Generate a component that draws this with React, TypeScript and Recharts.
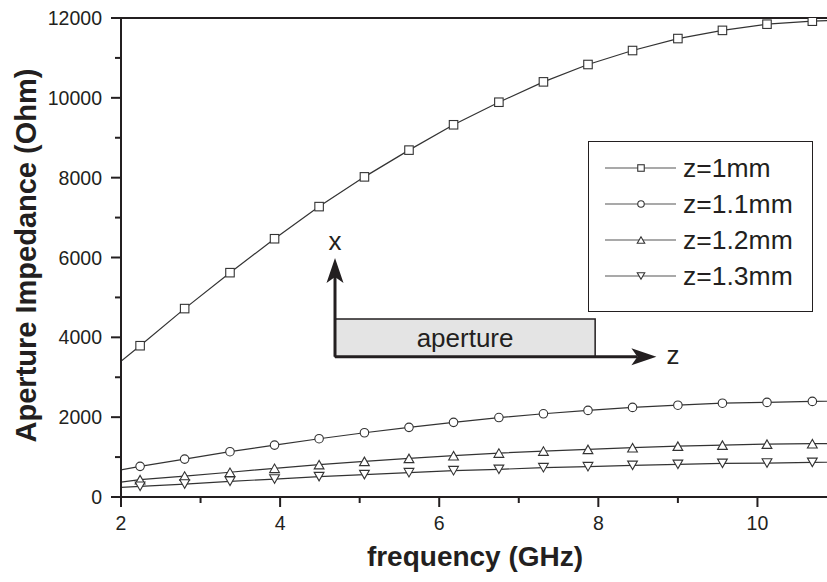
import React from "react";
import {
  LineChart,
  Line,
  XAxis,
  YAxis,
  Legend,
  ReferenceLine,
  ReferenceArea,
} from "recharts";

const INK = "#231f20";
const LINE = "#333333";
const FONT = "'Liberation Sans', Arial, Helvetica, sans-serif";

// frequency (GHz); first and last points sit just outside the visible range
const freq = [1.68, 2.24, 2.8, 3.37, 3.93, 4.49, 5.06, 5.62, 6.18, 6.75, 7.31, 7.87, 8.43, 9.0, 9.56, 10.12, 10.69, 11.25];

// aperture impedance (Ohm)
const z10 = [2880, 3790, 4720, 5620, 6470, 7275, 8020, 8690, 9325, 9890, 10400, 10835, 11185, 11485, 11690, 11845, 11920, 11960];
const z11 = [560, 768, 950, 1135, 1300, 1460, 1610, 1745, 1870, 1990, 2085, 2170, 2245, 2300, 2350, 2370, 2395, 2405];
const z12 = [290, 435, 525, 620, 718, 810, 893, 968, 1035, 1100, 1150, 1193, 1235, 1275, 1300, 1325, 1335, 1340];
const z13 = [200, 268, 325, 393, 450, 510, 560, 610, 660, 693, 735, 760, 793, 818, 843, 850, 868, 875];

const xTicks = [2, 3, 4, 5, 6, 7, 8, 9, 10, 11];
const yTicks = [0, 1000, 2000, 3000, 4000, 5000, 6000, 7000, 8000, 9000, 10000, 11000, 12000];

const series = [
  { key: "z10", name: "z=1mm", marker: "square", values: z10 },
  { key: "z11", name: "z=1.1mm", marker: "circle", values: z11 },
  { key: "z12", name: "z=1.2mm", marker: "up", values: z12 },
  { key: "z13", name: "z=1.3mm", marker: "down", values: z13 },
];

const data = freq.map((f, i) => {
  const row: Record<string, number> = { f };
  series.forEach((s) => (row[s.key] = s.values[i]));
  return row;
});

function Marker({ kind, cx, cy, s }: { kind: string; cx: number; cy: number; s: number }) {
  const common = { fill: "#fff", stroke: LINE, strokeWidth: 1.1 };
  if (kind === "square") return <rect x={cx - s / 2} y={cy - s / 2} width={s} height={s} {...common} />;
  if (kind === "circle") return <circle cx={cx} cy={cy} r={s / 2} {...common} />;
  const w = s * 1.15;
  const h = s;
  if (kind === "up")
    return <polygon points={`${cx},${cy - h / 2} ${cx - w / 2},${cy + h / 2} ${cx + w / 2},${cy + h / 2}`} {...common} />;
  return <polygon points={`${cx},${cy + h / 2} ${cx - w / 2},${cy - h / 2} ${cx + w / 2},${cy - h / 2}`} {...common} />;
}

function YTick({ x, y, payload }: any) {
  const major = payload.value % 2000 === 0;
  return (
    <g>
      <line x1={x - (major ? 10 : 6)} x2={x} y1={y} y2={y} stroke={INK} strokeWidth={2} />
      {major && (
        <text x={x - 19} y={y} dy="0.36em" textAnchor="end" fontSize={19.5} fill={INK} fontFamily={FONT}>
          {payload.value}
        </text>
      )}
    </g>
  );
}

function XTick({ x, y, payload }: any) {
  const major = payload.value % 2 === 0;
  return (
    <g>
      <line x1={x} x2={x} y1={y} y2={y + (major ? 10 : 6)} stroke={INK} strokeWidth={2} />
      {major && (
        <text x={x} y={y + 33} textAnchor="middle" fontSize={19.5} fill={INK} fontFamily={FONT}>
          {payload.value}
        </text>
      )}
    </g>
  );
}

function arrowShape(label: string, where: "above" | "right") {
  return (p: any) => {
    const { x1, y1, x2, y2 } = p;
    const ang = Math.atan2(y2 - y1, x2 - x1);
    const ux = Math.cos(ang);
    const uy = Math.sin(ang);
    const nx = -uy;
    const ny = ux;
    const L = 25;
    const W = 8.5;
    const notch = 6;
    const bx = x2 - ux * L;
    const by = y2 - uy * L;
    const mx = x2 - ux * (L - notch);
    const my = y2 - uy * (L - notch);
    const pts = `${x2},${y2} ${bx + nx * W},${by + ny * W} ${mx},${my} ${bx - nx * W},${by - ny * W}`;
    return (
      <g>
        <line x1={x1} y1={y1} x2={mx} y2={my} stroke={INK} strokeWidth={3} />
        <polygon points={pts} fill={INK} />
        {where === "above" ? (
          <text x={x2} y={y2 - 8} textAnchor="middle" fontSize={26} fill={INK} fontFamily={FONT}>
            {label}
          </text>
        ) : (
          <text x={x2 + 10} y={y2 + 7} textAnchor="start" fontSize={26} fill={INK} fontFamily={FONT}>
            {label}
          </text>
        )}
      </g>
    );
  };
}

function LegendBox() {
  return (
    <div
      style={{
        width: 225,
        height: 171,
        boxSizing: "border-box",
        border: `1.5px solid ${INK}`,
        background: "#fff",
        paddingTop: 8,
        fontFamily: FONT,
      }}
    >
      {series.map((s) => (
        <div key={s.key} style={{ display: "flex", alignItems: "center", height: 36 }}>
          <svg width={94} height={20} style={{ flex: "none" }}>
            <line x1={16} x2={87} y1={10} y2={10} stroke="#555" strokeWidth={1.2} />
            <Marker kind={s.marker} cx={52} cy={10} s={6.5} />
          </svg>
          <span style={{ fontSize: 26.5, color: INK, lineHeight: 1 }}>{s.name}</span>
        </div>
      ))}
    </div>
  );
}

export default function App() {
  return (
    <div
      style={{
        position: "fixed",
        left: 0,
        top: 0,
        width: 827,
        height: 582,
        overflow: "hidden",
        background: "#fff",
      }}
    >
      <LineChart width={850} height={582} data={data} margin={{ top: 18, right: 13, bottom: 0, left: 0 }}>
        <XAxis
          dataKey="f"
          type="number"
          domain={[2, 11]}
          allowDataOverflow
          ticks={xTicks}
          interval={0}
          tickSize={0}
          tickMargin={0}
          tick={<XTick />}
          height={85}
          axisLine={{ stroke: INK, strokeWidth: 2 }}
          label={(props: any) => {
            const vb = props.viewBox ?? { x: 121, y: 497, width: 716, height: 85 };
            return (
              <text
                x={vb.x + vb.width / 2 - 4}
                y={vb.y + 69}
                textAnchor="middle"
                fontSize={28}
                fontWeight="bold"
                fill={INK}
                fontFamily={FONT}
              >
                frequency (GHz)
              </text>
            );
          }}
        />
        <YAxis
          type="number"
          domain={[0, 12000]}
          allowDataOverflow
          ticks={yTicks}
          interval={0}
          tickSize={0}
          tickMargin={0}
          tick={<YTick />}
          width={121}
          axisLine={{ stroke: INK, strokeWidth: 2 }}
          label={(props: any) => {
            const vb = props.viewBox ?? { x: 0, y: 18, width: 121, height: 479 };
            const cy = vb.y + vb.height / 2 - 2;
            return (
              <text
                x={36}
                y={cy}
                transform={`rotate(-90, 36, ${cy})`}
                textAnchor="middle"
                fontSize={29}
                fontWeight="bold"
                fill={INK}
                fontFamily={FONT}
              >
                Aperture Impedance (Ohm)
              </text>
            );
          }}
        />
        <Legend
          layout="horizontal"
          align="center"
          verticalAlign="middle"
          wrapperStyle={{ left: 588, top: 141, width: 225, height: 171 }}
          content={() => <LegendBox />}
        />
        <ReferenceArea
          x1={4.69}
          x2={7.96}
          y1={3515}
          y2={4460}
          fill="#e4e4e4"
          fillOpacity={1}
          stroke={INK}
          strokeWidth={1.5}
          label={{ value: "aperture", position: "center", fill: INK, fontSize: 26, fontFamily: FONT }}
        />
        <ReferenceLine
          segment={[
            { x: 4.69, y: 3515 },
            { x: 4.69, y: 5990 },
          ]}
          shape={arrowShape("x", "above")}
        />
        <ReferenceLine
          segment={[
            { x: 4.69, y: 3515 },
            { x: 8.73, y: 3515 },
          ]}
          shape={arrowShape("z", "right")}
        />
        {series.map((s) => (
          <Line
            key={s.key}
            dataKey={s.key}
            name={s.name}
            type="linear"
            stroke={LINE}
            strokeWidth={1.2}
            isAnimationActive={false}
            dot={(p: any) => <Marker key={`${s.key}-${p.index}`} kind={s.marker} cx={p.cx} cy={p.cy} s={8.5} />}
          />
        ))}
        <ReferenceLine y={12000} stroke={INK} strokeWidth={2} />
        <ReferenceLine x={11} stroke={INK} strokeWidth={2} />
      </LineChart>
    </div>
  );
}
